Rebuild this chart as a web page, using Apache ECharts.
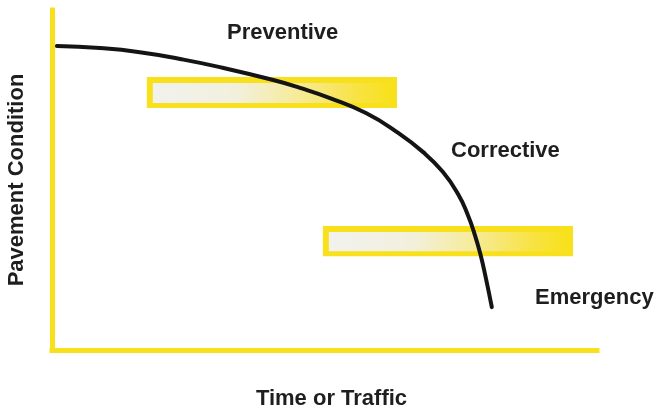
<!DOCTYPE html>
<html>
<head>
<meta charset="utf-8">
<script src="https://cdn.jsdelivr.net/npm/echarts@6/dist/echarts.min.js"></script>
<style>
html,body{margin:0;padding:0;background:#fff;}
#chart{width:657px;height:411px;}
</style>
</head>
<body>
<div id="chart"></div>
<script>
// Deterioration curve: x = time or traffic (0-100), y = pavement condition (0-100)
const timeTraffic = [0.9, 8.8, 16.1, 23.5, 30.8, 40.6, 45.5, 51.0, 57.6, 63.3, 68.1, 71.7, 74.5, 76.3, 77.6, 78.7, 79.6, 80.7];
const condition   = [89.4, 88.8, 87.6, 85.6, 83.2, 79.4, 77.1, 74.1, 69.7, 64.1, 58.2, 52.4, 45.9, 39.7, 33.8, 27.6, 21.2, 12.6];

// Treatment windows (bars)
const windowStart = [17.4, 49.7];
const windowEnd   = [63.3, 95.6];
const windowLow   = [71.2, 27.6];
const windowHigh  = [80.3, 36.5];

// Text
const zoneLabels = ['Preventive', 'Corrective', 'Emergency'];
const xTitle = 'Time or Traffic';
const yTitle = 'Pavement Condition';

const YELLOW = '#f8e11c';
const TEXT = '#1e1e1e';
const FONT = '"Liberation Sans", Arial, sans-serif';

const curveData = timeTraffic.map((x, i) => [x, condition[i]]);
const windowData = windowStart.map((s, i) => [s, windowEnd[i], windowLow[i], windowHigh[i]]);

const chart = echarts.init(document.getElementById('chart'), null, {renderer: 'canvas'});

const labelStyle = {fontFamily: FONT, fontWeight: 'bold', fontSize: 22, fill: TEXT, textVerticalAlign: 'top'};

chart.setOption({
  backgroundColor: '#ffffff',
  animation: false,
  grid: {left: 52, right: 60, top: 10, bottom: 61, containLabel: false, outerBoundsMode: 'none'},
  xAxis: {
    type: 'value', min: 0, max: 100,
    name: xTitle, nameLocation: 'middle', nameGap: 38,
    nameTextStyle: {fontFamily: FONT, fontWeight: 'bold', fontSize: 22, color: TEXT, padding: [0, 0, 0, 14]},
    axisLine: {show: true, lineStyle: {color: YELLOW, width: 5, cap: 'square'}},
    axisTick: {show: false}, axisLabel: {show: false}, splitLine: {show: false}
  },
  yAxis: {
    type: 'value', min: 0, max: 100,
    name: yTitle, nameLocation: 'middle', nameGap: 24, nameRotate: 90,
    nameTextStyle: {fontFamily: FONT, fontWeight: 'bold', fontSize: 22, color: TEXT},
    axisLine: {show: true, onZero: false, lineStyle: {color: YELLOW, width: 5, cap: 'square'}},
    axisTick: {show: false}, axisLabel: {show: false}, splitLine: {show: false}
  },
  series: [
    {
      type: 'custom',
      z: 1,
      silent: true,
      data: windowData,
      renderItem: function (params, api) {
        const p0 = api.coord([api.value(0), api.value(3)]);
        const p1 = api.coord([api.value(1), api.value(2)]);
        const w = p1[0] - p0[0];
        const h = p1[1] - p0[1];
        return {
          type: 'group',
          children: [
            {type: 'rect', shape: {x: p0[0], y: p0[1], width: w, height: h}, style: {fill: YELLOW}},
            {type: 'rect', shape: {x: p0[0] + 6, y: p0[1] + 6, width: w - 12, height: h - 11},
             style: {fill: {type: 'linear', x: 0, y: 0, x2: 1, y2: 0, colorStops: [
               {offset: 0, color: '#f1f1ee'},
               {offset: 0.35, color: '#f2f0dc'},
               {offset: 0.6, color: '#f6eb9c'},
               {offset: 0.85, color: '#f8e345'},
               {offset: 1, color: YELLOW}
             ]}}}
          ]
        };
      }
    },
    {
      type: 'line',
      z: 3,
      data: curveData,
      smooth: 0.5,
      showSymbol: false,
      symbol: 'none',
      lineStyle: {color: '#141414', width: 4, cap: 'round'}
    }
  ],
  graphic: [
    {type: 'text', left: 227, top: 22, style: Object.assign({text: zoneLabels[0]}, labelStyle)},
    {type: 'text', left: 451, top: 140, style: Object.assign({text: zoneLabels[1]}, labelStyle)},
    {type: 'text', left: 535, top: 287, style: Object.assign({text: zoneLabels[2]}, labelStyle)}
  ]
});
</script>
</body>
</html>
